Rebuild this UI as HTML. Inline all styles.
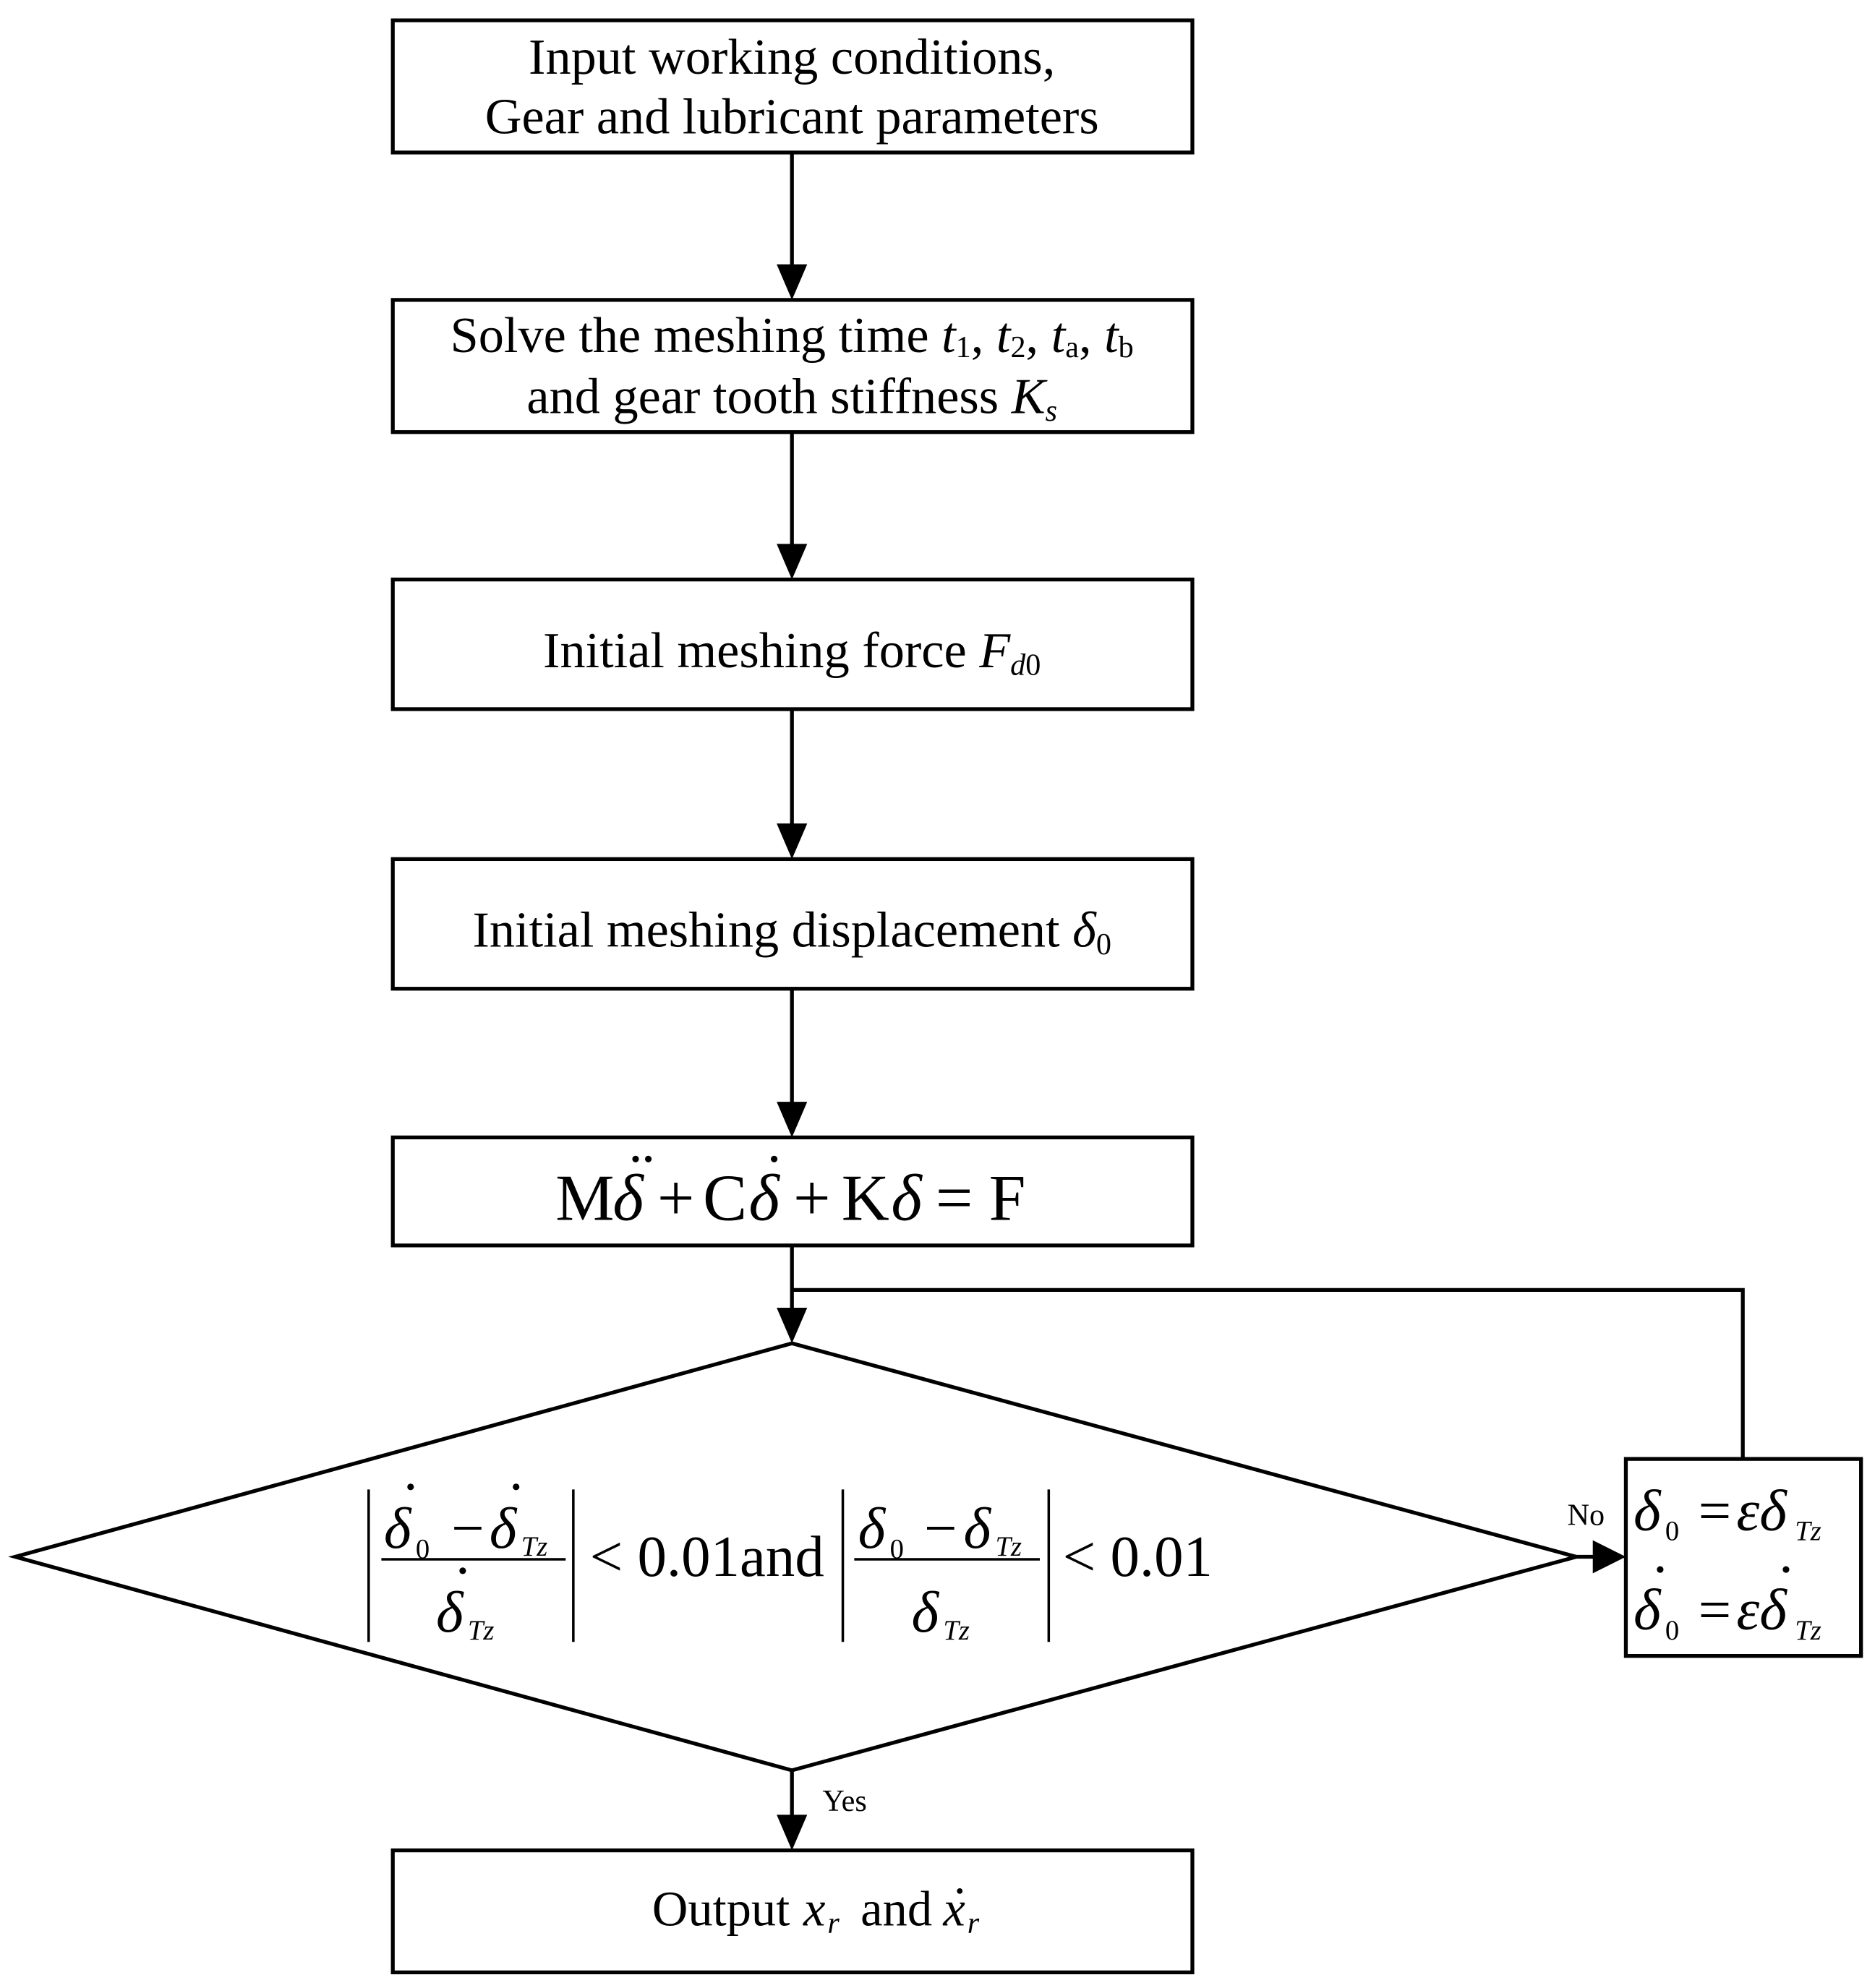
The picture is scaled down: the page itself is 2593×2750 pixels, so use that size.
<!DOCTYPE html>
<html><head><meta charset="utf-8"><style>
html,body{margin:0;padding:0;background:#fff;}
svg{display:block;}
text{font-family:"Liberation Serif",serif;fill:#000;}
.i{font-style:italic;}
</style></head><body>
<svg width="2593" height="2750" viewBox="0 0 1475 1564.3" preserveAspectRatio="none" xmlns="http://www.w3.org/2000/svg">
<g fill="none" stroke="#000" stroke-width="3">
<rect x="309" y="16" width="629" height="104"/>
<rect x="309" y="236" width="629" height="104"/>
<rect x="309" y="456" width="629" height="102"/>
<rect x="309" y="676" width="629" height="102"/>
<rect x="309" y="895" width="629" height="85"/>
<rect x="309" y="1456" width="629" height="96"/>
<rect x="1279" y="1148" width="185" height="155"/>
<polygon points="623,1057 1240,1225 623,1393 12,1225"/>
<line x1="623" y1="120" x2="623" y2="210"/>
<line x1="623" y1="340" x2="623" y2="430"/>
<line x1="623" y1="558" x2="623" y2="650"/>
<line x1="623" y1="778" x2="623" y2="869"/>
<line x1="623" y1="980" x2="623" y2="1031"/>
<polyline points="623,1015 1371,1015 1371,1148"/>
<line x1="623" y1="1393" x2="623" y2="1430"/>
<line x1="1240" y1="1225" x2="1255" y2="1225"/>
</g>
<g fill="#000">
<polygon points="611,208 635,208 623,236"/>
<polygon points="611,428 635,428 623,456"/>
<polygon points="611,648 635,648 623,676"/>
<polygon points="611,867 635,867 623,895"/>
<polygon points="611,1029 635,1029 623,1057"/>
<polygon points="611,1428 635,1428 623,1456"/>
<polygon points="1253,1212 1253,1238 1279,1225"/>
</g>
<g font-size="40" text-anchor="middle">
<text x="623" y="58">Input working conditions,</text>
<text x="623" y="105">Gear and lubricant parameters</text>
<text x="623" y="277">Solve the meshing time  <tspan class="i">t</tspan><tspan font-size="24" dy="4">1</tspan><tspan dy="-4">, </tspan><tspan class="i">t</tspan><tspan font-size="24" dy="4">2</tspan><tspan dy="-4">, </tspan><tspan class="i">t</tspan><tspan font-size="24" dy="4">a</tspan><tspan dy="-4">, </tspan><tspan class="i">t</tspan><tspan font-size="24" dy="4">b</tspan></text>
<text x="623" y="325">and gear tooth stiffness <tspan class="i">K</tspan><tspan class="i" font-size="24" dy="6">s</tspan></text>
<text x="623" y="525">Initial meshing force <tspan class="i">F</tspan><tspan font-size="24" dy="6"><tspan class="i">d</tspan>0</tspan></text>
<text x="623" y="745">Initial meshing displacement <tspan class="i">δ</tspan><tspan font-size="24" dy="6">0</tspan></text>
</g>
<g font-size="39">
<text x="513" y="1515">Output</text>
<text x="632" y="1515" class="i">x</text><text x="651" y="1521" class="i" font-size="24">r</text>
<text x="677" y="1515">and</text>
<text x="742" y="1515" class="i">x</text><text x="761" y="1521" class="i" font-size="24">r</text>
</g>
<circle cx="755" cy="1488" r="2.2"/>
<g font-size="52">
<text x="437" y="960">M</text>
<text x="482" y="960" class="i">δ</text>
<text x="517" y="960">+</text>
<text x="553" y="960">C</text>
<text x="589" y="960" class="i">δ</text>
<text x="624" y="960">+</text>
<text x="662" y="960">K</text>
<text x="701" y="960" class="i">δ</text>
<text x="736" y="960">=</text>
<text x="778" y="960">F</text>
</g>
<circle cx="500" cy="912" r="2.6"/><circle cx="510" cy="912" r="2.6"/>
<circle cx="609" cy="912" r="2.6"/>
<text x="1233" y="1200" font-size="24">No</text>
<text x="647" y="1425" font-size="24">Yes</text>
<g stroke="#000" stroke-width="2" fill="none">
<line x1="290" y1="1172" x2="290" y2="1292"/>
<line x1="451" y1="1172" x2="451" y2="1292"/>
<line x1="663" y1="1172" x2="663" y2="1292"/>
<line x1="825" y1="1172" x2="825" y2="1292"/>
<line x1="300" y1="1227" x2="445" y2="1227"/>
<line x1="672" y1="1227" x2="818" y2="1227"/>
</g>
<g font-size="46">
<text x="302" y="1218" class="i">δ</text><text x="327" y="1226" font-size="22">0</text>
<text x="355" y="1218">−</text>
<text x="385" y="1218" class="i">δ</text><text x="410" y="1224" font-size="22" class="i">Tz</text>
<text x="343" y="1284" class="i">δ</text><text x="368" y="1290" font-size="22" class="i">Tz</text>
<text x="464" y="1240">&lt; 0.01and</text>
<text x="675" y="1218" class="i">δ</text><text x="700" y="1226" font-size="22">0</text>
<text x="727" y="1218">−</text>
<text x="758" y="1218" class="i">δ</text><text x="783" y="1224" font-size="22" class="i">Tz</text>
<text x="717" y="1284" class="i">δ</text><text x="742" y="1290" font-size="22" class="i">Tz</text>
<text x="836" y="1240">&lt; 0.01</text>
<text x="1285" y="1204" class="i">δ</text><text x="1310" y="1212" font-size="22">0</text>
<text x="1336" y="1204">=</text><text x="1366" y="1204" class="i">εδ</text><text x="1412" y="1212" font-size="22" class="i">Tz</text>
<text x="1285" y="1282" class="i">δ</text><text x="1310" y="1290" font-size="22">0</text>
<text x="1336" y="1282">=</text><text x="1366" y="1282" class="i">εδ</text><text x="1412" y="1290" font-size="22" class="i">Tz</text>
</g>
<g fill="#000">
<circle cx="323" cy="1170" r="2.6"/><circle cx="406" cy="1170" r="2.6"/><circle cx="364" cy="1236" r="2.6"/>
<circle cx="1306" cy="1235" r="2.6"/><circle cx="1405" cy="1235" r="2.6"/>
</g>
</svg>
</body></html>
